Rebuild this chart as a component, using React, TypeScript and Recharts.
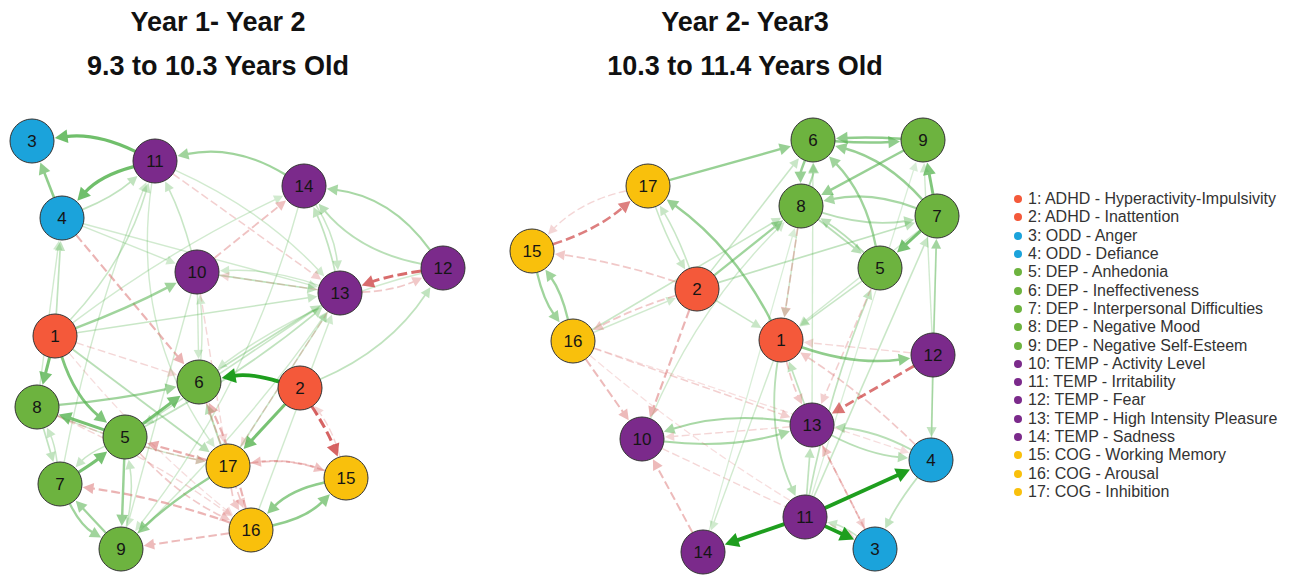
import { ScatterChart, Scatter, XAxis, YAxis, ReferenceLine } from 'recharts';

// node ids and their domain group
const ids = [1, 2, 3, 4, 5, 6, 7, 8, 9, 10, 11, 12, 13, 14, 15, 16, 17];
const groups = ['ADHD', 'ADHD', 'ODD', 'ODD', 'DEP', 'DEP', 'DEP', 'DEP', 'DEP', 'TEMP', 'TEMP', 'TEMP', 'TEMP', 'TEMP', 'COG', 'COG', 'COG'];
const labels = [
  'ADHD - Hyperactivity-Impulsivity',
  'ADHD - Inattention',
  'ODD - Anger',
  'ODD - Defiance',
  'DEP - Anhedonia',
  'DEP - Ineffectiveness',
  'DEP - Interpersonal Difficulties',
  'DEP - Negative Mood',
  'DEP - Negative Self-Esteem',
  'TEMP - Activity Level',
  'TEMP - Irritability',
  'TEMP - Fear',
  'TEMP - High Intensity Pleasure',
  'TEMP - Sadness',
  'COG - Working Memory',
  'COG - Arousal',
  'COG - Inhibition',
];

// layout positions, year 1 - year 2
const layoutX1 = [55, 300, 32, 62, 125, 199, 60, 37, 121, 197, 155, 443, 340, 304, 346, 251, 228];
const layoutY1 = [336, 388, 141, 218, 437, 382, 484, 407, 549, 272, 161, 268, 293, 186, 478, 530, 466];
// layout positions, year 2 - year 3
const layoutX2 = [781, 697, 875, 931, 880, 813, 937, 801, 923, 642, 805, 933, 812, 703, 532, 573, 648];
const layoutY2 = [340, 289, 549, 460, 268, 140, 216, 206, 140, 439, 517, 355, 425, 552, 251, 341, 186];

// edges: [from, to, weight, bend]
type Edge = [number, number, number, number];

const posEdges1: Edge[] = [
  [11, 3, 0.8, 0.15], [11, 4, 0.8, 0.15], [4, 3, 0.6, 0], [4, 11, 0.3, 0.08],
  [14, 11, 0.5, 0.2], [12, 14, 0.45, 0.22], [12, 14, 0.35, -0.18], [13, 14, 0.3, 0.05],
  [14, 13, 0.25, -0.12], [1, 8, 0.75, 0], [1, 5, 0.7, 0.15], [1, 10, 0.5, 0.03],
  [1, 4, 0.3, 0], [1, 11, 0.25, 0.12], [1, 17, 0.35, 0], [1, 13, 0.25, 0],
  [1, 14, 0.2, -0.05], [2, 6, 1.0, 0.12], [2, 17, 0.75, 0], [5, 6, 0.75, 0],
  [5, 8, 0.75, 0], [7, 5, 0.75, 0.03], [5, 7, 0.25, 0.1], [5, 9, 0.55, 0],
  [7, 9, 0.5, 0.15], [9, 7, 0.5, 0], [17, 9, 0.55, 0.05], [8, 6, 0.5, 0.03],
  [15, 16, 0.6, 0.15], [16, 15, 0.6, 0.15], [10, 13, 0.3, 0], [10, 6, 0.2, 0],
  [10, 9, 0.2, 0], [4, 13, 0.2, 0], [8, 7, 0.3, 0], [7, 8, 0.25, 0.08],
  [6, 13, 0.3, 0], [5, 13, 0.3, 0.05], [12, 6, 0.2, 0.1], [17, 13, 0.25, 0],
  [9, 13, 0.2, 0.05], [11, 13, 0.2, -0.1], [16, 13, 0.2, 0], [11, 17, 0.2, 0.2],
  [14, 9, 0.2, -0.1], [2, 12, 0.3, 0.15], [13, 5, 0.25, 0], [8, 4, 0.2, 0],
  [7, 11, 0.2, -0.05], [17, 6, 0.35, 0], [10, 11, 0.25, 0.05], [8, 17, 0.2, 0.05],
  [9, 5, 0.25, 0.1], [4, 10, 0.2, 0], [6, 10, 0.2, 0.05], [13, 10, 0.2, 0.1],
];

const negEdges1: Edge[] = [
  [12, 13, 0.7, 0.05], [13, 12, 0.3, 0.1], [4, 6, 0.45, 0], [2, 15, 0.75, -0.05],
  [16, 6, 0.45, 0.05], [17, 5, 0.5, 0], [16, 9, 0.4, 0], [16, 7, 0.45, 0.05],
  [17, 15, 0.35, -0.12], [15, 17, 0.35, 0.12], [10, 17, 0.2, 0], [1, 6, 0.2, 0],
  [10, 14, 0.35, 0], [8, 17, 0.25, 0.05], [6, 16, 0.3, 0], [13, 17, 0.2, 0],
  [17, 16, 0.3, 0.1], [13, 10, 0.2, 0], [5, 16, 0.3, 0.1], [15, 2, 0.2, 0.1],
  [11, 13, 0.25, 0], [8, 16, 0.2, -0.05], [1, 16, 0.15, 0.05],
];

const posEdges2: Edge[] = [
  [17, 6, 0.55, 0], [15, 16, 0.5, 0.1], [16, 15, 0.5, 0.1], [6, 9, 0.6, 0.03],
  [9, 6, 0.6, 0.03], [6, 8, 0.55, 0.1], [8, 6, 0.4, 0.1], [9, 8, 0.55, 0],
  [7, 9, 0.7, 0], [7, 6, 0.55, 0.15], [7, 8, 0.45, 0.15], [8, 7, 0.35, 0.12],
  [7, 5, 0.75, 0], [5, 6, 0.5, 0.15], [8, 5, 0.35, 0], [5, 8, 0.35, 0.05],
  [1, 17, 0.55, 0.12], [1, 12, 0.6, 0.12], [2, 8, 0.5, 0], [2, 7, 0.3, 0],
  [2, 6, 0.25, 0], [11, 4, 1.0, 0], [11, 3, 1.0, 0], [11, 14, 1.0, 0],
  [12, 7, 0.3, 0], [13, 4, 0.35, 0.1], [4, 13, 0.35, 0.1], [10, 13, 0.45, 0.1],
  [13, 10, 0.45, 0.12], [1, 11, 0.35, 0.15], [13, 1, 0.3, 0], [4, 3, 0.3, 0.05],
  [12, 4, 0.3, 0], [11, 13, 0.3, 0], [11, 5, 0.3, -0.05], [11, 7, 0.25, 0],
  [4, 7, 0.2, 0], [16, 8, 0.25, 0], [16, 2, 0.2, 0], [8, 1, 0.2, 0],
  [5, 1, 0.25, 0], [7, 1, 0.2, 0], [2, 1, 0.25, 0], [13, 6, 0.2, 0],
  [3, 11, 0.25, 0.1], [11, 9, 0.15, 0], [14, 8, 0.15, 0], [12, 9, 0.2, 0],
  [17, 2, 0.25, 0.05], [2, 17, 0.25, 0.05], [10, 8, 0.2, -0.1], [1, 14, 0.2, 0],
];

const negEdges2: Edge[] = [
  [12, 13, 0.65, 0], [15, 17, 0.6, 0.1], [17, 15, 0.2, 0.15], [2, 15, 0.3, 0.05],
  [2, 16, 0.3, 0.05], [2, 10, 0.45, 0], [16, 10, 0.4, 0], [16, 13, 0.25, 0],
  [14, 10, 0.4, 0], [13, 10, 0.2, 0], [8, 1, 0.3, 0], [5, 13, 0.25, 0],
  [1, 13, 0.3, 0.05], [3, 13, 0.35, 0], [4, 1, 0.3, 0.05], [10, 3, 0.2, 0],
  [16, 4, 0.15, 0], [13, 3, 0.25, 0], [12, 1, 0.2, 0], [16, 3, 0.15, 0.05],
];

const groupColors: Record<string, string> = {
  ADHD: '#F4593A',
  ODD: '#1BA3DB',
  DEP: '#6DB33F',
  TEMP: '#7B2A8B',
  COG: '#F9C00C',
};

const R = 22;

function makeNodes(xs: number[], ys: number[]) {
  return ids.map((id, i) => ({ id, x: xs[i], y: ys[i], group: groups[i] }));
}

function edgeShape(w: number, bend: number, negative: boolean) {
  return (p: any) => {
    const { x1, y1, x2, y2 } = p;
    if (x1 == null || x2 == null) return <g />;
    const dx = x2 - x1;
    const dy = y2 - y1;
    const cx = (x1 + x2) / 2 - dy * bend;
    const cy = (y1 + y2) / 2 + dx * bend;
    const d1x = cx - x1, d1y = cy - y1;
    const l1 = Math.hypot(d1x, d1y) || 1;
    const sx = x1 + (d1x / l1) * R;
    const sy = y1 + (d1y / l1) * R;
    const d2x = x2 - cx, d2y = y2 - cy;
    const l2 = Math.hypot(d2x, d2y) || 1;
    const ux = d2x / l2, uy = d2y / l2;
    const tx = x2 - ux * (R + 1);
    const ty = y2 - uy * (R + 1);
    const L = 8 + 6 * w;
    const H = 4 + 3.5 * w;
    const bx = tx - ux * L, by = ty - uy * L;
    let color: string;
    if (negative) color = w >= 0.6 ? '#CC3B3B' : '#D96B6B';
    else color = w >= 0.9 ? '#1E9E1E' : '#55B34F';
    const op = Math.min(1, 0.08 + 0.95 * w);
    const sw = 0.8 + 3 * w;
    return (
      <g opacity={op}>
        <path
          d={`M${sx},${sy} Q${cx},${cy} ${bx + ux * 2},${by + uy * 2}`}
          fill="none"
          stroke={color}
          strokeWidth={sw}
          strokeDasharray={negative ? `${4 + 4 * w + 3},${3 + 2 * w}` : undefined}
        />
        <polygon
          points={`${tx},${ty} ${bx - uy * H},${by + ux * H} ${bx + uy * H},${by - ux * H}`}
          fill={color}
        />
      </g>
    );
  };
}

function NodeShape(props: any) {
  const { cx, cy, payload } = props;
  return (
    <g>
      <circle cx={cx} cy={cy} r={R} fill={groupColors[payload.group]} stroke="#333" strokeWidth={1} />
      <text
        x={cx}
        y={cy}
        dy="0.36em"
        textAnchor="middle"
        fontSize={17}
        fontFamily="'Liberation Sans', Arial, sans-serif"
        fill="#151515"
      >
        {payload.id}
      </text>
    </g>
  );
}

function Network(props: { xs: number[]; ys: number[]; pos: Edge[]; neg: Edge[]; x0: number; width: number }) {
  const { xs, ys, pos, neg, x0, width } = props;
  const nodes = makeNodes(xs, ys);
  const byId = (id: number) => nodes[id - 1];
  const edgeLines = (list: Edge[], negative: boolean) =>
    list.map(([f, t, w, b], i) => {
      const a = byId(f);
      const c = byId(t);
      return (
        <ReferenceLine
          key={`${negative ? 'n' : 'p'}${i}-${f}-${t}`}
          segment={[{ x: a.x, y: a.y }, { x: c.x, y: c.y }]}
          ifOverflow="visible"
          shape={edgeShape(w, b, negative)}
        />
      );
    });
  // faint edges first so strong ones sit on top
  const sortW = (list: Edge[]) => [...list].sort((a, b) => a[2] - b[2]);
  return (
    <ScatterChart width={width} height={488} margin={{ top: 0, right: 0, bottom: 0, left: 0 }}>
      <XAxis type="number" dataKey="x" domain={[x0, x0 + width]} allowDataOverflow hide />
      <YAxis type="number" dataKey="y" domain={[90, 578]} allowDataOverflow reversed hide />
      {edgeLines(sortW(pos).filter((e) => e[2] < 0.5), false)}
      {edgeLines(sortW(neg), true)}
      {edgeLines(sortW(pos).filter((e) => e[2] >= 0.5), false)}
      <Scatter data={nodes} shape={<NodeShape />} isAnimationActive={false} />
    </ScatterChart>
  );
}

const titleStyle: React.CSSProperties = {
  position: 'absolute',
  fontFamily: "'Liberation Sans', Arial, sans-serif",
  fontWeight: 'bold',
  fontSize: 27,
  color: '#111',
  textAlign: 'center',
  width: 420,
  lineHeight: '30px',
};

export default function App() {
  return (
    <div style={{ position: 'absolute', left: 0, top: 0, width: 1291, height: 578, background: '#fff', overflow: 'hidden' }}>
      <div style={{ ...titleStyle, left: 8, top: 7 }}>Year 1- Year 2</div>
      <div style={{ ...titleStyle, left: 8, top: 51 }}>9.3 to 10.3 Years Old</div>
      <div style={{ ...titleStyle, left: 535, top: 7 }}>Year 2- Year3</div>
      <div style={{ ...titleStyle, left: 535, top: 51 }}>10.3 to 11.4 Years Old</div>
      <div style={{ position: 'absolute', left: 0, top: 90 }}>
        <Network xs={layoutX1} ys={layoutY1} pos={posEdges1} neg={negEdges1} x0={0} width={490} />
      </div>
      <div style={{ position: 'absolute', left: 490, top: 90 }}>
        <Network xs={layoutX2} ys={layoutY2} pos={posEdges2} neg={negEdges2} x0={490} width={510} />
      </div>
      <div style={{ position: 'absolute', left: 1012, top: 190 }}>
        {ids.map((id, i) => (
          <div
            key={id}
            style={{
              display: 'flex',
              alignItems: 'center',
              height: 18.3,
              fontFamily: "'Liberation Sans', Arial, sans-serif",
              fontSize: 16,
              color: '#333',
              whiteSpace: 'nowrap',
            }}
          >
            <span
              style={{
                display: 'inline-block',
                width: 8,
                height: 8,
                borderRadius: 4,
                background: groupColors[groups[i]],
                marginRight: 6,
                marginLeft: 2,
              }}
            />
            {id}: {labels[i]}
          </div>
        ))}
      </div>
    </div>
  );
}
